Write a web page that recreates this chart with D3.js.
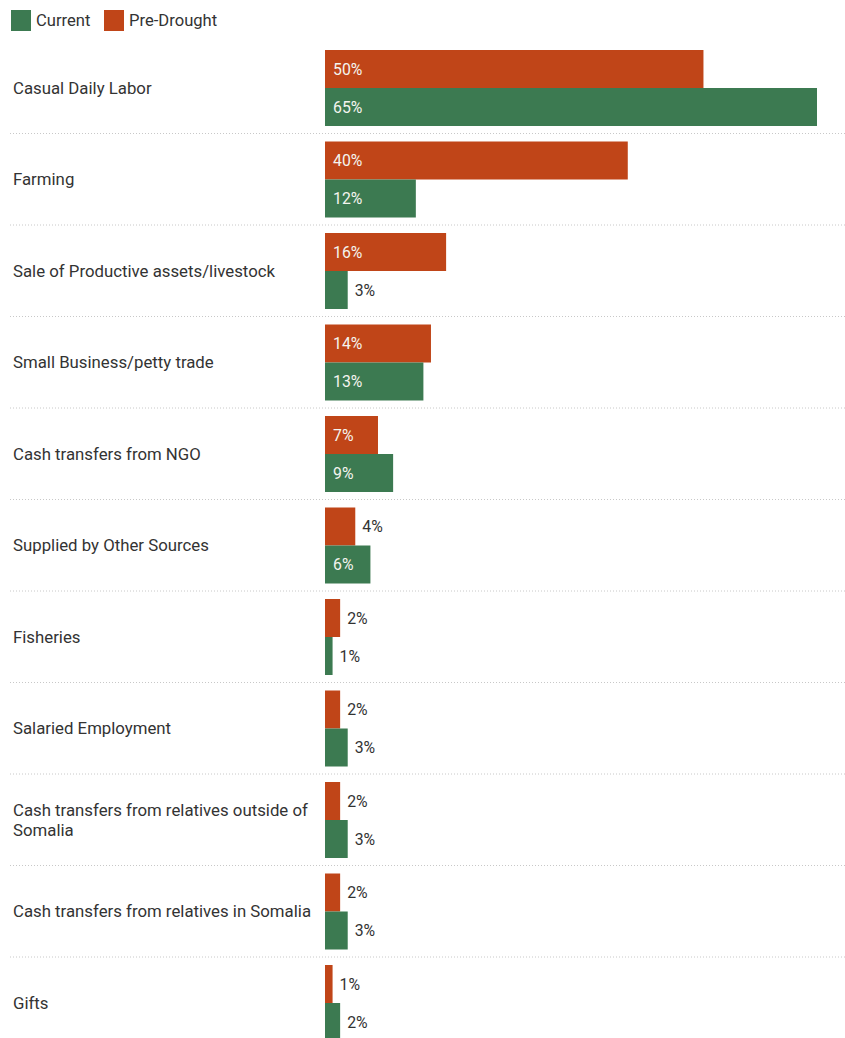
<!DOCTYPE html>
<html>
<head>
<meta charset="utf-8">
<script src="https://cdn.jsdelivr.net/npm/d3@7"></script>
<style>
  html, body { margin: 0; padding: 0; background: #fff; }
  svg { display: block; font-family: Roboto, "Noto Sans", sans-serif; }
</style>
</head>
<body>
<svg id="chart" width="845" height="1038"></svg>
<script>
// Income sources, share of households
const categories = [
  "Casual Daily Labor",
  "Farming",
  "Sale of Productive assets/livestock",
  "Small Business/petty trade",
  "Cash transfers from NGO",
  "Supplied by Other Sources",
  "Fisheries",
  "Salaried Employment",
  "Cash transfers from relatives outside of Somalia",
  "Cash transfers from relatives in Somalia",
  "Gifts"
];
const preDrought = [50, 40, 16, 14, 7, 4, 2, 2, 2, 2, 1];
const current    = [65, 12, 3, 13, 9, 6, 1, 3, 3, 3, 2];
const seriesNames = ["Current", "Pre-Drought"];
const seriesColors = ["#3c7a51", "#c04518"];

const svg = d3.select("#chart");
const textColor = "#333";

// Legend
const legend = svg.append("g").attr("transform", "translate(11,10)");
const legendX = [0, 93];
seriesNames.forEach((name, i) => {
  const g = legend.append("g").attr("transform", `translate(${legendX[i]},0)`);
  g.append("rect").attr("width", 20).attr("height", 21).attr("fill", seriesColors[i]);
  g.append("text").attr("x", 25).attr("y", 16)
    .attr("font-size", 16.6).attr("fill", textColor).text(name);
});

// Scales
const x = d3.scaleLinear().domain([0, 65]).range([325, 817]);
const rowStep = 91.5;
const plotTop = 50;
const y = d3.scaleBand().domain(categories)
  .range([plotTop, plotTop + rowStep * categories.length]).paddingInner(0).paddingOuter(0);
const barH = 38;

const rows = svg.append("g").selectAll("g.row")
  .data(categories)
  .join("g")
  .attr("class", "row")
  .attr("transform", d => `translate(0,${y(d)})`);

// Separator lines below each row
rows.filter((d, i) => i < categories.length - 1)
  .append("line")
  .attr("x1", 10).attr("x2", 845)
  .attr("y1", 2 * barH + 7.5).attr("y2", 2 * barH + 7.5)
  .attr("stroke", "#c8c8c8").attr("stroke-width", 1)
  .attr("stroke-dasharray", "1,2");

// Category labels, wrapped to fit left of the bars
function wrap(textSel, width) {
  textSel.each(function() {
    const text = d3.select(this);
    const words = text.text().split(/\s+/);
    text.text(null);
    const lines = [];
    let line = [];
    const tmp = text.append("tspan");
    words.forEach(w => {
      line.push(w);
      tmp.text(line.join(" "));
      if (tmp.node().getComputedTextLength() > width && line.length > 1) {
        line.pop();
        lines.push(line.join(" "));
        line = [w];
      }
    });
    lines.push(line.join(" "));
    tmp.remove();
    const lh = 19.5;
    const y0 = barH - (lines.length - 1) * lh / 2;
    lines.forEach((l, k) => {
      text.append("tspan").attr("x", 13).attr("y", y0 + k * lh)
        .attr("dy", "0.35em").text(l);
    });
  });
}
rows.append("text")
  .attr("font-size", 16.8).attr("fill", textColor)
  .text(d => d)
  .call(wrap, 306);

// Bars: pre-drought on top, current below
const pairs = categories.map((c, i) => [
  { cat: c, v: preDrought[i], color: seriesColors[1], off: 0 },
  { cat: c, v: current[i], color: seriesColors[0], off: barH }
]);

const bars = rows.selectAll("g.bar")
  .data((d, i) => pairs[i])
  .join("g").attr("class", "bar");

bars.append("rect")
  .attr("x", x(0))
  .attr("y", d => d.off)
  .attr("width", d => x(d.v) - x(0))
  .attr("height", barH)
  .attr("fill", d => d.color);

bars.append("text")
  .attr("font-size", 15.8)
  .attr("y", d => d.off + barH / 2)
  .attr("dy", "0.35em")
  .attr("x", d => (x(d.v) - x(0) > 40) ? x(0) + 8 : x(d.v) + 7)
  .attr("fill", d => (x(d.v) - x(0) > 40) ? "#f4f4ef" : textColor)
  .text(d => d.v + "%");
</script>
</body>
</html>
